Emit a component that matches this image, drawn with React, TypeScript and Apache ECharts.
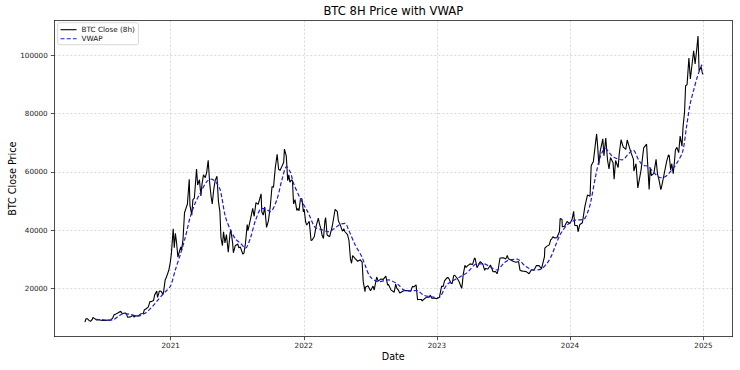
import React, { useEffect, useRef } from "react";
import * as echarts from "echarts";

// BTC close (sampled from the 8h series), [date, price]
const close2020: [string, number][] = [
  ["2020-05-11", 8600], ["2020-05-14", 9700], ["2020-05-18", 9700], ["2020-05-22", 9150],
  ["2020-05-26", 8800], ["2020-05-31", 9450], ["2020-06-02", 10150], ["2020-06-07", 9750],
  ["2020-06-11", 9300], ["2020-06-14", 9400], ["2020-06-21", 9300], ["2020-06-28", 9100],
  ["2020-07-05", 9100], ["2020-07-12", 9250], ["2020-07-19", 9200], ["2020-07-22", 9500],
  ["2020-07-26", 9950], ["2020-07-30", 11100], ["2020-08-02", 11200], ["2020-08-09", 11700],
  ["2020-08-17", 12300], ["2020-08-21", 11500], ["2020-08-30", 11700], ["2020-09-02", 11400],
  ["2020-09-05", 10200], ["2020-09-13", 10350], ["2020-09-20", 10900], ["2020-09-23", 10250],
  ["2020-09-27", 10750], ["2020-10-04", 10650], ["2020-10-11", 11400], ["2020-10-18", 11500],
  ["2020-10-21", 12800], ["2020-10-25", 13050], ["2020-11-01", 13750], ["2020-11-05", 15600],
  ["2020-11-08", 15500], ["2020-11-15", 15950], ["2020-11-18", 17800], ["2020-11-24", 19200],
  ["2020-11-26", 17000], ["2020-11-29", 18200], ["2020-12-01", 19200], ["2020-12-06", 19150],
  ["2020-12-11", 18000], ["2020-12-13", 19250], ["2020-12-17", 23000], ["2020-12-20", 23800],
  ["2020-12-27", 26300], ["2020-12-31", 29000],
];
const close2021: [string, number][] = [
  ["2021-01-03", 32000], ["2021-01-08", 40500], ["2021-01-11", 34000], ["2021-01-14", 39000],
  ["2021-01-17", 36000], ["2021-01-21", 30800], ["2021-01-24", 32300], ["2021-01-29", 34300],
  ["2021-01-31", 33100], ["2021-02-04", 37000], ["2021-02-08", 46000], ["2021-02-12", 47500],
  ["2021-02-16", 49000], ["2021-02-21", 57500], ["2021-02-23", 48500], ["2021-02-28", 45200],
  ["2021-03-03", 50500], ["2021-03-07", 51000], ["2021-03-13", 61000], ["2021-03-16", 55500],
  ["2021-03-21", 57300], ["2021-03-25", 51800], ["2021-03-28", 55800], ["2021-04-01", 59000],
  ["2021-04-06", 58000], ["2021-04-10", 60000], ["2021-04-14", 64000], ["2021-04-18", 56200],
  ["2021-04-22", 51500], ["2021-04-25", 49000], ["2021-04-29", 53800], ["2021-05-03", 57000],
  ["2021-05-08", 58500], ["2021-05-12", 50000], ["2021-05-16", 46400], ["2021-05-19", 37500],
  ["2021-05-23", 34700], ["2021-05-26", 39500], ["2021-05-30", 35700], ["2021-06-03", 38500],
  ["2021-06-08", 32500], ["2021-06-13", 39100], ["2021-06-15", 40200], ["2021-06-20", 35600],
  ["2021-06-22", 32300], ["2021-06-27", 34700], ["2021-07-04", 35300], ["2021-07-07", 34000],
  ["2021-07-11", 34300], ["2021-07-18", 31800], ["2021-07-21", 32200], ["2021-07-25", 35400],
  ["2021-07-30", 42000], ["2021-08-01", 39900], ["2021-08-08", 43800], ["2021-08-14", 47500],
  ["2021-08-18", 44800], ["2021-08-23", 49500], ["2021-08-29", 48900], ["2021-09-06", 52500],
  ["2021-09-08", 46300], ["2021-09-12", 45200], ["2021-09-16", 48000], ["2021-09-21", 41000],
  ["2021-09-26", 43200], ["2021-10-01", 48000], ["2021-10-06", 55000], ["2021-10-10", 54700],
  ["2021-10-15", 61500], ["2021-10-20", 66000], ["2021-10-24", 60900], ["2021-10-28", 60500],
  ["2021-10-31", 61300], ["2021-11-07", 63300], ["2021-11-09", 67800], ["2021-11-14", 65500],
  ["2021-11-18", 57000], ["2021-11-21", 59000], ["2021-11-24", 56500], ["2021-11-28", 57200],
  ["2021-12-01", 57000], ["2021-12-04", 49000], ["2021-12-08", 50500], ["2021-12-13", 46800],
  ["2021-12-16", 47500], ["2021-12-19", 46700], ["2021-12-23", 50800], ["2021-12-27", 50800],
  ["2021-12-31", 46300],
];
const close2022: [string, number][] = [
  ["2022-01-02", 47300], ["2022-01-06", 43000], ["2022-01-09", 41800], ["2022-01-13", 42500],
  ["2022-01-16", 43100], ["2022-01-21", 36500], ["2022-01-24", 36700], ["2022-01-30", 37900],
  ["2022-02-04", 41500], ["2022-02-10", 44200], ["2022-02-13", 42200], ["2022-02-17", 40500],
  ["2022-02-20", 38400], ["2022-02-24", 37200], ["2022-02-28", 43200], ["2022-03-02", 44300],
  ["2022-03-06", 38400], ["2022-03-13", 37800], ["2022-03-20", 41300], ["2022-03-28", 47200],
  ["2022-04-03", 46400], ["2022-04-06", 43200], ["2022-04-10", 42200], ["2022-04-17", 39700],
  ["2022-04-21", 40500], ["2022-04-24", 39500], ["2022-05-01", 38500], ["2022-05-05", 36500],
  ["2022-05-09", 30200], ["2022-05-12", 28700], ["2022-05-15", 31300], ["2022-05-22", 30300],
  ["2022-05-29", 29400], ["2022-06-05", 29900], ["2022-06-10", 29100], ["2022-06-13", 22500],
  ["2022-06-18", 19000], ["2022-06-19", 20500], ["2022-06-26", 21000], ["2022-07-03", 19300],
  ["2022-07-10", 20900], ["2022-07-13", 19500], ["2022-07-20", 24000], ["2022-07-24", 22600],
  ["2022-07-31", 23300], ["2022-08-07", 23200], ["2022-08-14", 24300], ["2022-08-19", 21200],
  ["2022-08-21", 21500], ["2022-08-28", 19600], ["2022-09-06", 18800], ["2022-09-10", 21600],
  ["2022-09-13", 20200], ["2022-09-18", 19400], ["2022-09-21", 18500], ["2022-09-25", 18800],
  ["2022-10-02", 19300], ["2022-10-09", 19400], ["2022-10-16", 19250], ["2022-10-21", 19100],
  ["2022-10-26", 20800], ["2022-10-30", 20600], ["2022-11-05", 21300], ["2022-11-09", 16200],
  ["2022-11-13", 16300], ["2022-11-20", 16300], ["2022-11-21", 15800], ["2022-11-27", 16450],
  ["2022-12-04", 17100], ["2022-12-11", 17100], ["2022-12-14", 17800], ["2022-12-18", 16750],
  ["2022-12-25", 16850], ["2022-12-31", 16550],
];
const close2023: [string, number][] = [
  ["2023-01-01", 16600], ["2023-01-08", 17100], ["2023-01-14", 20900], ["2023-01-18", 20700],
  ["2023-01-22", 22700], ["2023-01-29", 23800], ["2023-02-02", 23700], ["2023-02-05", 22900],
  ["2023-02-09", 21800], ["2023-02-12", 21800], ["2023-02-16", 24400], ["2023-02-19", 24600],
  ["2023-02-26", 23500], ["2023-03-03", 22400], ["2023-03-10", 20100], ["2023-03-12", 22000],
  ["2023-03-14", 24700], ["2023-03-19", 28000], ["2023-03-22", 27300], ["2023-03-26", 27800],
  ["2023-04-02", 28500], ["2023-04-09", 28300], ["2023-04-14", 30500], ["2023-04-16", 30300],
  ["2023-04-21", 27200], ["2023-04-23", 27600], ["2023-04-30", 29300], ["2023-05-07", 28400],
  ["2023-05-12", 26300], ["2023-05-14", 26900], ["2023-05-21", 26750], ["2023-05-28", 28100],
  ["2023-06-04", 25800], ["2023-06-11", 25900], ["2023-06-15", 25100], ["2023-06-18", 26500],
  ["2023-06-23", 30500], ["2023-07-02", 30600], ["2023-07-09", 30200], ["2023-07-13", 31400],
  ["2023-07-16", 30250], ["2023-07-23", 29800], ["2023-07-30", 29300], ["2023-08-06", 29050],
  ["2023-08-13", 29300], ["2023-08-17", 26300], ["2023-08-20", 26100], ["2023-08-27", 26000],
  ["2023-09-03", 25850], ["2023-09-11", 25100], ["2023-09-17", 26500], ["2023-09-24", 26300],
  ["2023-10-01", 27950], ["2023-10-08", 27900], ["2023-10-15", 26900], ["2023-10-23", 31000],
  ["2023-10-24", 33900], ["2023-10-29", 34500], ["2023-11-05", 35000], ["2023-11-09", 36700],
  ["2023-11-12", 37100], ["2023-11-15", 37800], ["2023-11-19", 37400], ["2023-11-26", 37450],
  ["2023-12-03", 39500], ["2023-12-05", 44000], ["2023-12-10", 43800], ["2023-12-11", 41200],
  ["2023-12-17", 41400], ["2023-12-24", 43000], ["2023-12-31", 42300],
];
const close2024: [string, number][] = [
  ["2024-01-03", 42800], ["2024-01-07", 43900], ["2024-01-11", 46500], ["2024-01-14", 41700],
  ["2024-01-21", 41600], ["2024-01-23", 39500], ["2024-01-28", 42000], ["2024-02-04", 42600],
  ["2024-02-11", 48300], ["2024-02-18", 52100], ["2024-02-25", 51700], ["2024-02-28", 62000],
  ["2024-03-03", 63100], ["2024-03-05", 63500], ["2024-03-10", 68900], ["2024-03-14", 73000],
  ["2024-03-17", 68400], ["2024-03-20", 62500], ["2024-03-24", 67200], ["2024-03-31", 71300],
  ["2024-04-03", 65500], ["2024-04-08", 71600], ["2024-04-13", 64000], ["2024-04-17", 61000],
  ["2024-04-21", 64900], ["2024-04-28", 63100], ["2024-05-01", 57500], ["2024-05-05", 63900],
  ["2024-05-12", 61500], ["2024-05-15", 66200], ["2024-05-20", 71000], ["2024-05-26", 68500],
  ["2024-06-02", 67700], ["2024-06-06", 71000], ["2024-06-09", 69600], ["2024-06-16", 66700],
  ["2024-06-23", 64300], ["2024-06-24", 60300], ["2024-06-30", 62800], ["2024-07-05", 54500],
  ["2024-07-07", 55900], ["2024-07-14", 60800], ["2024-07-21", 68200], ["2024-07-29", 69500],
  ["2024-07-31", 64800], ["2024-08-05", 54000], ["2024-08-08", 61500], ["2024-08-11", 58700],
  ["2024-08-18", 59500], ["2024-08-24", 64300], ["2024-08-28", 59200], ["2024-09-01", 57300],
  ["2024-09-06", 53900], ["2024-09-08", 54800], ["2024-09-15", 59200], ["2024-09-22", 63600],
  ["2024-09-27", 65800], ["2024-09-29", 65600], ["2024-10-03", 60700], ["2024-10-06", 62800],
  ["2024-10-10", 59400], ["2024-10-13", 62900], ["2024-10-16", 67500], ["2024-10-20", 68400],
  ["2024-10-25", 66600], ["2024-10-29", 72300], ["2024-11-03", 68800], ["2024-11-06", 75500],
  ["2024-11-10", 80400], ["2024-11-13", 89500], ["2024-11-17", 89900], ["2024-11-22", 99000],
  ["2024-11-26", 91800], ["2024-12-01", 97200], ["2024-12-05", 101500], ["2024-12-09", 97000],
  ["2024-12-13", 101400], ["2024-12-17", 106500], ["2024-12-20", 94500], ["2024-12-22", 95100],
  ["2024-12-26", 95800], ["2024-12-29", 93700], ["2024-12-31", 93400],
];

// VWAP, [date, value]
const vwap2020: [string, number][] = [
  ["2020-06-10", 9500], ["2020-06-25", 9400], ["2020-07-15", 9250], ["2020-07-28", 9400],
  ["2020-08-10", 10500], ["2020-08-25", 11500], ["2020-09-10", 11300], ["2020-09-25", 10800],
  ["2020-10-08", 10700], ["2020-10-20", 11400], ["2020-11-01", 12500], ["2020-11-12", 13900],
  ["2020-11-25", 15800], ["2020-12-05", 17300], ["2020-12-18", 19000],
];
const vwap2021: [string, number][] = [
  ["2021-01-01", 21000], ["2021-01-14", 26500], ["2021-01-27", 31500], ["2021-02-10", 37500],
  ["2021-02-24", 44700], ["2021-03-10", 49500], ["2021-03-23", 52700], ["2021-04-10", 56700],
  ["2021-04-22", 57500], ["2021-05-05", 56500], ["2021-05-17", 53800], ["2021-05-31", 44700],
  ["2021-06-14", 40100], ["2021-06-28", 37000], ["2021-07-11", 35600], ["2021-07-25", 33900],
  ["2021-08-08", 37500], ["2021-08-22", 43500], ["2021-09-08", 47500], ["2021-09-20", 47200],
  ["2021-10-01", 46400], ["2021-10-19", 50400], ["2021-11-02", 57200], ["2021-11-15", 61800],
  ["2021-11-25", 60000], ["2021-12-04", 56100], ["2021-12-22", 51000],
];
const vwap2022: [string, number][] = [
  ["2022-01-14", 45800], ["2022-02-01", 41000], ["2022-02-20", 40200], ["2022-03-09", 39500],
  ["2022-03-25", 40500], ["2022-04-10", 42000], ["2022-04-24", 42400], ["2022-05-04", 40100],
  ["2022-05-22", 35000], ["2022-06-09", 31000], ["2022-06-18", 28100], ["2022-07-02", 24100],
  ["2022-07-25", 22400], ["2022-08-21", 23000], ["2022-09-18", 21300], ["2022-10-02", 19600],
  ["2022-10-25", 19300], ["2022-11-07", 19400], ["2022-11-25", 17800], ["2022-12-14", 17300],
];
const vwap2023: [string, number][] = [
  ["2023-01-05", 16900], ["2023-01-28", 21300], ["2023-02-15", 22800], ["2023-03-06", 24100],
  ["2023-03-25", 25500], ["2023-04-21", 28500], ["2023-05-10", 28500], ["2023-05-27", 27500],
  ["2023-06-15", 26400], ["2023-07-03", 28700], ["2023-07-17", 29800], ["2023-08-09", 30100],
  ["2023-08-31", 27800], ["2023-09-23", 26400], ["2023-10-12", 26600], ["2023-10-30", 28700],
  ["2023-11-12", 31500], ["2023-11-21", 34400], ["2023-12-05", 38500], ["2023-12-24", 41800],
];
const vwap2024: [string, number][] = [
  ["2024-01-16", 43500], ["2024-02-07", 43700], ["2024-02-18", 46000], ["2024-02-26", 49200],
  ["2024-03-11", 58400], ["2024-03-24", 65200], ["2024-04-07", 68100], ["2024-04-18", 66500],
  ["2024-04-30", 65000], ["2024-05-23", 64100], ["2024-06-08", 66000], ["2024-06-22", 67500],
  ["2024-07-07", 64100], ["2024-07-20", 62200], ["2024-08-01", 62000], ["2024-08-20", 59500],
  ["2024-09-05", 58000], ["2024-09-20", 58500], ["2024-10-05", 60500], ["2024-10-20", 63000],
  ["2024-11-05", 67000], ["2024-11-15", 75000], ["2024-11-25", 83000], ["2024-12-05", 88000],
  ["2024-12-15", 92500], ["2024-12-25", 96000], ["2024-12-31", 97300],
];

const yearTicks = ["2021", "2022", "2023", "2024", "2025"];

const FONT = "DejaVu Sans";
const X_MIN = "2020-02-17";
const X_MAX = "2025-03-21";
const Y_MIN = 3560;
const Y_MAX = 111780;

export default function App() {
  const ref = useRef<HTMLDivElement>(null);
  useEffect(() => {
    document.body.style.margin = "0";
    const chart = echarts.init(ref.current!, null, { renderer: "svg" });
    const closeData = [...close2020, ...close2021, ...close2022, ...close2023, ...close2024];
    const vwapData = [...vwap2020, ...vwap2021, ...vwap2022, ...vwap2023, ...vwap2024];
    const DAY = 24 * 3600 * 1000;
    const spine = { show: true, lineStyle: { color: "#222", width: 0.8 } };
    const gridLine = { show: true, lineStyle: { color: "#cfcfcf", type: [2, 2], width: 0.8 } };
    chart.setOption({
      animation: false,
      backgroundColor: "#ffffff",
      textStyle: { fontFamily: FONT },
      title: {
        text: "BTC 8H Price with VWAP",
        left: 393.3,
        top: 5,
        padding: 0,
        textAlign: "center",
        textStyle: { fontSize: 11.6, fontWeight: "normal", color: "#000", fontFamily: FONT },
      },
      legend: {
        data: ["BTC Close (8h)", "VWAP"],
        orient: "vertical",
        left: 57.7,
        top: 22.7,
        itemWidth: 16,
        itemHeight: 8,
        itemGap: 2,
        padding: [3.5, 3.6, 2.5, 2.3],
        backgroundColor: "rgba(255,255,255,0.8)",
        borderColor: "#cccccc",
        borderWidth: 0.8,
        borderRadius: 2,
        itemStyle: { opacity: 0 },
        lineStyle: { width: 1.1 },
        textStyle: { fontSize: 7.25, color: "#111", fontFamily: FONT },
      },
      grid: {
        left: 54.3,
        right: 7.7,
        top: 20.7,
        bottom: 33.3,
        show: false,
        containLabel: false,
        outerBoundsMode: "none",
      },
      xAxis: [
        {
          type: "time",
          min: X_MIN,
          max: X_MAX,
          minInterval: 365 * DAY,
          maxInterval: 366 * DAY,
          splitNumber: 5,
          name: "Date",
          nameLocation: "middle",
          nameGap: 15,
          nameMoveOverlap: false,
          nameTextStyle: { fontSize: 9.6, color: "#000", fontFamily: FONT },
          axisLine: spine,
          axisTick: { show: true, length: 3.5, lineStyle: { color: "#222", width: 0.8 } },
          axisLabel: {
            formatter: (v: number) => {
              const y = String(new Date(v).getFullYear());
              return yearTicks.includes(y) ? y : "";
            },
            fontSize: 7.2,
            color: "#222",
            margin: 5,
            showMinLabel: false,
            showMaxLabel: false,
            fontFamily: FONT,
          },
          splitLine: gridLine,
        },
        {
          type: "time",
          position: "top",
          min: X_MIN,
          max: X_MAX,
          axisLine: spine,
          axisTick: { show: false },
          axisLabel: { show: false },
          splitLine: { show: false },
        },
      ],
      yAxis: [
        {
          type: "value",
          min: Y_MIN,
          max: Y_MAX,
          splitNumber: 5,
          name: "BTC Close Price",
          nameLocation: "middle",
          nameGap: 37,
          nameRotate: 90,
          nameMoveOverlap: false,
          nameTextStyle: { fontSize: 9.6, color: "#000", fontFamily: FONT },
          axisLine: spine,
          axisTick: { show: true, length: 3.5, lineStyle: { color: "#222", width: 0.8 } },
          axisLabel: {
            formatter: (v: number) => String(Math.round(v)),
            fontSize: 7.2,
            color: "#222",
            margin: 6.6,
            showMinLabel: false,
            showMaxLabel: false,
            fontFamily: FONT,
          },
          splitLine: gridLine,
        },
        {
          type: "value",
          position: "right",
          min: Y_MIN,
          max: Y_MAX,
          axisLine: spine,
          axisTick: { show: false },
          axisLabel: { show: false },
          splitLine: { show: false },
        },
      ],
      series: [
        {
          name: "BTC Close (8h)",
          type: "line",
          data: closeData,
          symbol: "none",
          showSymbol: false,
          lineStyle: { color: "#000", width: 1.1 },
          itemStyle: { color: "#000" },
          silent: true,
          z: 2,
        },
        {
          name: "VWAP",
          type: "line",
          data: vwapData,
          symbol: "none",
          showSymbol: false,
          smooth: 0.3,
          lineStyle: { color: "#1a1aee", width: 1.2, type: [4, 2.2] },
          itemStyle: { color: "#1a1aee" },
          silent: true,
          z: 3,
        },
      ],
    });
    return () => chart.dispose();
  }, []);
  return (
    <div
      ref={ref}
      style={{ position: "absolute", left: 0, top: 0, width: 740, height: 370, background: "#fff" }}
    />
  );
}
